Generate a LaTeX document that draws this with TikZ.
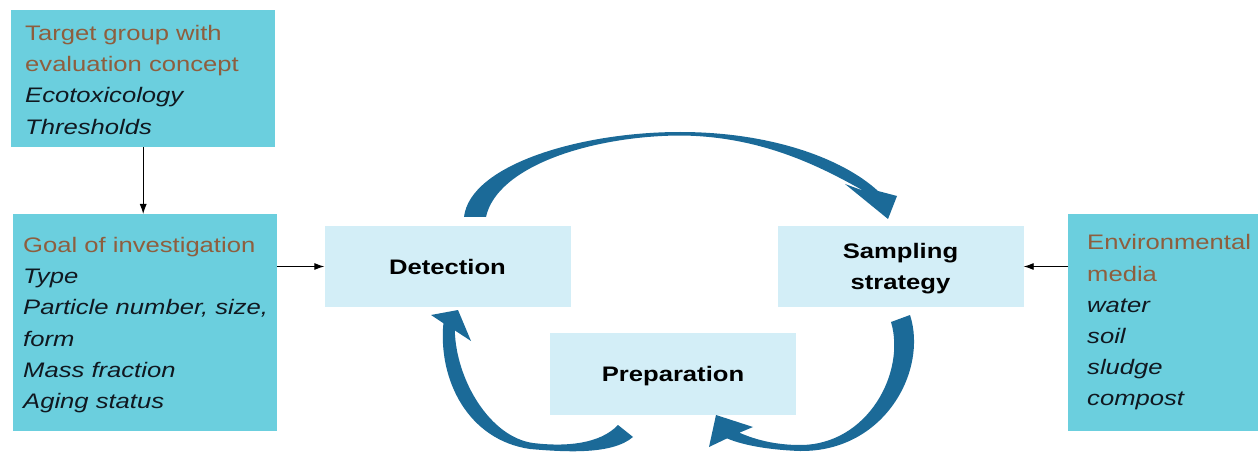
\documentclass[tikz,border=0pt]{standalone}
\usepackage{fontspec}
\setmainfont{Liberation Sans}[FakeStretch=1.22]
\usetikzlibrary{arrows.meta,calc}
\definecolor{darkbox}{HTML}{6BCFDE}
\definecolor{lightbox}{HTML}{D3EEF7}
\definecolor{arrowblue}{HTML}{1B6A98}
\definecolor{headbrown}{HTML}{8E5E3E}
\definecolor{itext}{HTML}{101820}
\begin{document}
\begin{tikzpicture}[x=1pt,y=-1pt,
  darkbg/.style={fill=darkbox, draw=none, inner sep=0pt, anchor=north west},
  lightbg/.style={fill=lightbox, draw=none, inner sep=0pt, minimum width=246pt, minimum height=81pt, text depth=0pt, font=\fontsize{21}{31.2}\selectfont\bfseries, align=center},
  info/.style={anchor=north west, inner sep=0pt, align=left, font=\fontsize{21}{31.2}\selectfont\itshape, text=itext},
  thinarrow/.style={draw=black, line width=0.9pt, -{Latex[length=10pt,width=7pt]}},
  bigarrow/.style={fill=arrowblue, draw=none}
]
\useasboundingbox (0,0) rectangle (1258,457);

% dark information boxes
\node[darkbg, minimum width=264pt, minimum height=137pt] (tgbox) at (11,10) {};
\node[darkbg, minimum width=264pt, minimum height=217pt] (goalbox) at (13,214) {};
\node[darkbg, minimum width=190pt, minimum height=217pt] (envbox) at (1068,214) {};

\node[info] (tgtext) at (25,25) {\textcolor{headbrown}{\upshape Target group with}\\
  \textcolor{headbrown}{\upshape evaluation concept}\\
  Ecotoxicology\\
  Thresholds};
\node[info] (goaltext) at (23,237) {\textcolor{headbrown}{\upshape Goal of investigation}\\
  Type\\
  Particle number, size,\\
  form\\
  Mass fraction\\
  Aging status};
\node[info] (envtext) at (1087,234.5) {\textcolor{headbrown}{\upshape Environmental}\\
  \textcolor{headbrown}{\upshape media}\\
  water\\
  soil\\
  sludge\\
  compost};

% process boxes
\node[lightbg] (det) at (447.5,266.5) {Detection};
\node[lightbg] (samp) at (900.5,266.5) {Sampling\\strategy};
\node[lightbg, minimum height=82pt] (prep) at (673,374) {Preparation};

% thin connectors
\draw[thinarrow] (tgbox.south) -- (tgbox.south |- goalbox.north);
\draw[thinarrow] (goalbox.east |- det.west) -- (det.west);
\draw[thinarrow] (envbox.west |- samp.east) -- (samp.east);

% big cycle arrows
\coordinate (a1s) at (464,217);
\coordinate (a2s) at (910,315);
\coordinate (a3s) at (633,437);
\fill[bigarrow] (a1s) .. controls (470,165) and (580,132) .. (680,132)
  .. controls (770,132) and (842,158) .. (878,191) -- (897,196) -- (888,219)
  -- (845,184) -- (864,191) .. controls (826,170) and (765,136) .. (680,135.5)
  .. controls (592,136) and (497,166) .. (486,217) -- cycle;
\fill[bigarrow] (a2s) .. controls (928,370) and (885,452) .. (800,451)
  .. controls (772,450) and (745,446) .. (727,438.4) -- (709,447) -- (716,415)
  -- (753,427) -- (739.4,432.7) .. controls (756,440) and (776,445) .. (800,445)
  .. controls (868,445) and (906,372) .. (891,322) -- cycle;
\fill[bigarrow] (a3s) .. controls (612,455) and (565,452) .. (530,449)
  .. controls (468,440) and (438,380) .. (443.4,323.2) -- (431,315) -- (458,310)
  -- (471,341) -- (454.8,330.4) .. controls (456,380) and (490,437) .. (533,443)
  .. controls (566,447) and (600,444) .. (618,425) -- cycle;
\end{tikzpicture}
\end{document}
